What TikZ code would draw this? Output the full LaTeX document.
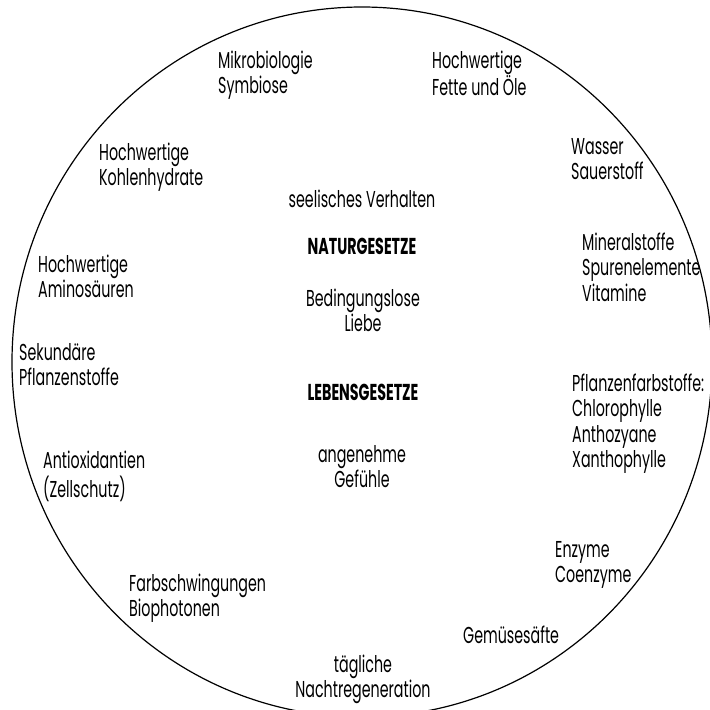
\documentclass[tikz,border=0pt]{standalone}
\usepackage{fontspec}
\setmainfont{Poppins}[FakeStretch=0.62]
\newcommand\stackL[1]{\begin{tabular}[t]{@{}l@{}}#1\end{tabular}}
\newcommand\stackC[1]{\begin{tabular}[t]{@{}c@{}}#1\end{tabular}}
\tikzset{
  txt/.style={inner sep=0pt, font=\fontsize{23}{25.5}\selectfont},
  lbl/.style={txt, anchor=base west},
  ctr/.style={txt, anchor=base},
  hdr/.style={txt, anchor=base, font=\fontsize{23}{25.5}\selectfont\bfseries},
  rim/.style={line width=1.2pt}
}
\begin{document}
\begin{tikzpicture}[x=1pt,y=-1pt]
\useasboundingbox (0,0) rectangle (710,710);
\draw[rim] (362,362) ellipse [x radius=350, y radius=355];
\node[lbl] (mikro) at (218,68) {\stackL{Mikrobiologie\\Symbiose}};
\node[lbl] (fette) at (432,68) {\stackL{Hochwertige\\Fette und Öle}};
\node[lbl] (kohlen) at (99,160) {\stackL{Hochwertige\\Kohlenhydrate}};
\node[lbl] (wasser) at (571,154) {\stackL{Wasser\\Sauerstoff}};
\node[lbl] (mineral) at (582,250) {\stackL{Mineralstoffe\\Spurenelemente\\Vitamine}};
\node[lbl] (amino) at (38,272) {\stackL{Hochwertige\\Aminosäuren}};
\node[lbl] (sekund) at (19,360) {\stackL{Sekundäre\\Pflanzenstoffe}};
\node[lbl] (farbst) at (572,391) {\stackL{Pflanzenfarbstoffe:\\Chlorophylle\\Anthozyane\\Xanthophylle}};
\node[lbl] (antiox) at (43,468) {\stackL{Antioxidantien\\(Zellschutz)}};
\node[lbl] (enzyme) at (555,557) {\stackL{Enzyme\\Coenzyme}};
\node[lbl] (farbschw) at (129,591) {\stackL{Farbschwingungen\\Biophotonen}};
\node[lbl] (gemuese) at (463,643) {Gemüsesäfte};
\node[ctr] (nacht) at (363,672) {\stackC{tägliche\\Nachtregeneration}};
\node[ctr] (seel) at (362,207) {seelisches Verhalten};
\node[hdr] (natur) at (362,254) {NATURGESETZE};
\node[ctr] (liebe) at (363,306) {\stackC{Bedingungslose\\Liebe}};
\node[hdr] (leben) at (363,400) {LEBENSGESETZE};
\node[ctr] (gefuehl) at (362,462) {\stackC{angenehme\\Gefühle}};
\end{tikzpicture}
\end{document}
